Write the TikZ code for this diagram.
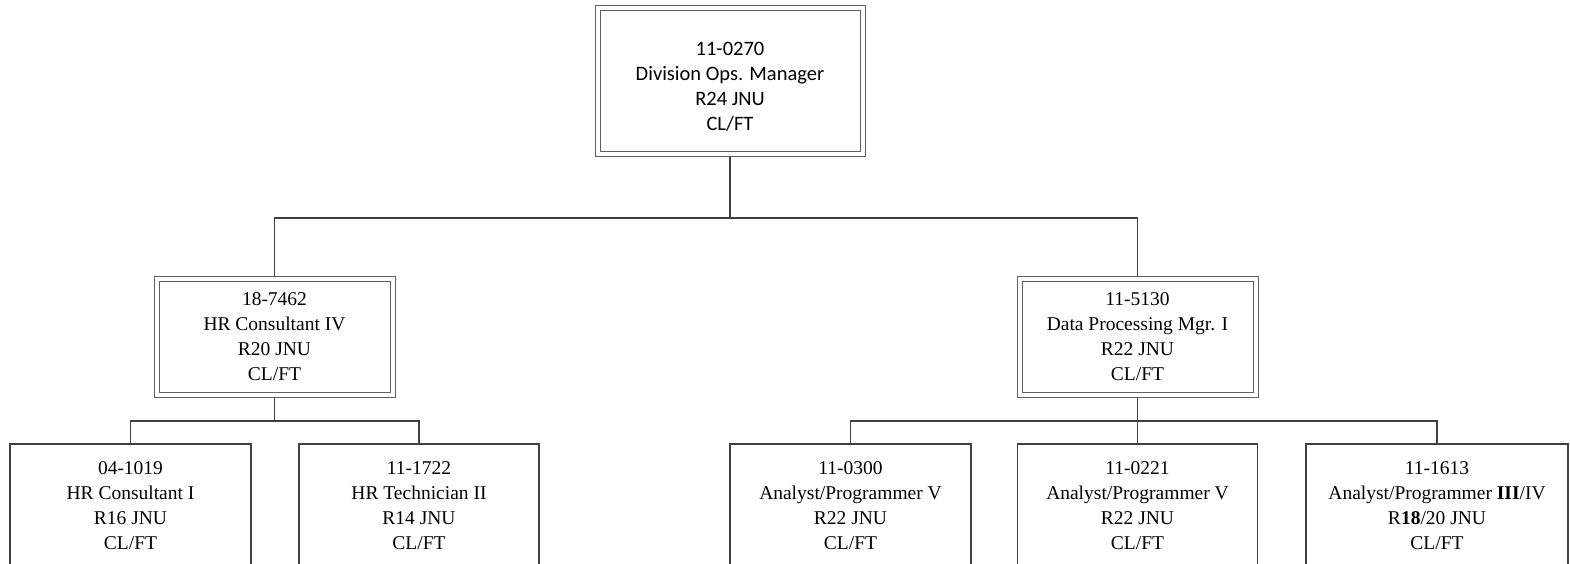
\documentclass[tikz,border=0pt]{standalone}
\usepackage{fontspec}
\setmainfont{Liberation Serif}
\newfontfamily\calibrifont{Carlito}
\definecolor{linedark}{RGB}{64,64,64}
\definecolor{linegray}{RGB}{96,96,96}
\begin{document}
\begin{tikzpicture}[x=1pt,y=-1pt,
  dbox/.style={draw=linegray, double, double distance=4pt, line width=1pt,
    outer sep=2.5pt, inner sep=0pt, align=center, font=\fontsize{19.5}{25}\selectfont},
  sbox/.style={draw=linedark, line width=1.2pt, outer sep=0pt, inner sep=0pt,
    align=center, font=\fontsize{19.5}{25}\selectfont, minimum height=123pt},
  conn/.style={draw=linedark, line width=1.2pt}]
\useasboundingbox (0,0) rectangle (1570,564);
\clip (0,0) rectangle (1570,564);
\fill[white] (0,0) rectangle (1570,564);

\node[dbox, minimum width=265pt, minimum height=146pt] (top) at (730,81.5) {};
\node[align=center, inner sep=0pt, font=\calibrifont\fontsize{20.5}{25}\selectfont] (toptext)
  at ([yshift=-5.5pt]top.center) {11-0270\\Division Ops. Manager\\R24 JNU\\CL/FT};
\node[dbox, minimum width=236pt, minimum height=116pt] (hr) at (274.5,336.5)
  {18-7462\\HR Consultant IV\\R20 JNU\\CL/FT};
\node[dbox, minimum width=236pt, minimum height=116pt] (dp) at (1137.5,336.5)
  {11-5130\\Data Processing Mgr. I\\R22 JNU\\CL/FT};

\node[sbox, minimum width=241pt] (c1) at (130.5,505.5)
  {04-1019\\HR Consultant I\\R16 JNU\\CL/FT};
\node[sbox, minimum width=240pt] (c2) at (419,505.5)
  {11-1722\\HR Technician II\\R14 JNU\\CL/FT};
\node[sbox, minimum width=241pt] (c3) at (850.5,505.5)
  {11-0300\\Analyst/Programmer V\\R22 JNU\\CL/FT};
\node[sbox, minimum width=240pt] (c4) at (1137.5,505.5)
  {11-0221\\Analyst/Programmer V\\R22 JNU\\CL/FT};
\node[sbox, minimum width=262pt] (c5) at (1437,505.5)
  {11-1613\\Analyst/Programmer \textbf{III}/IV\\R\textbf{18}/20 JNU\\CL/FT};

\coordinate (bus1) at (0,218);
\coordinate (bus2) at (0,421);

\draw[conn] (top.south) -- (top.south |- bus1) -| (hr.north);
\draw[conn] (top.south |- bus1) -| (dp.north);

\draw[conn] (hr.south) -- (hr.south |- bus2) -| (c1.north);
\draw[conn] (hr.south |- bus2) -| (c2.north);

\draw[conn] (dp.south) -- (dp.south |- bus2) -| (c3.north);
\draw[conn] (dp.south |- bus2) -- (c4.north);
\draw[conn] (dp.south |- bus2) -| (c5.north);
\end{tikzpicture}
\end{document}
